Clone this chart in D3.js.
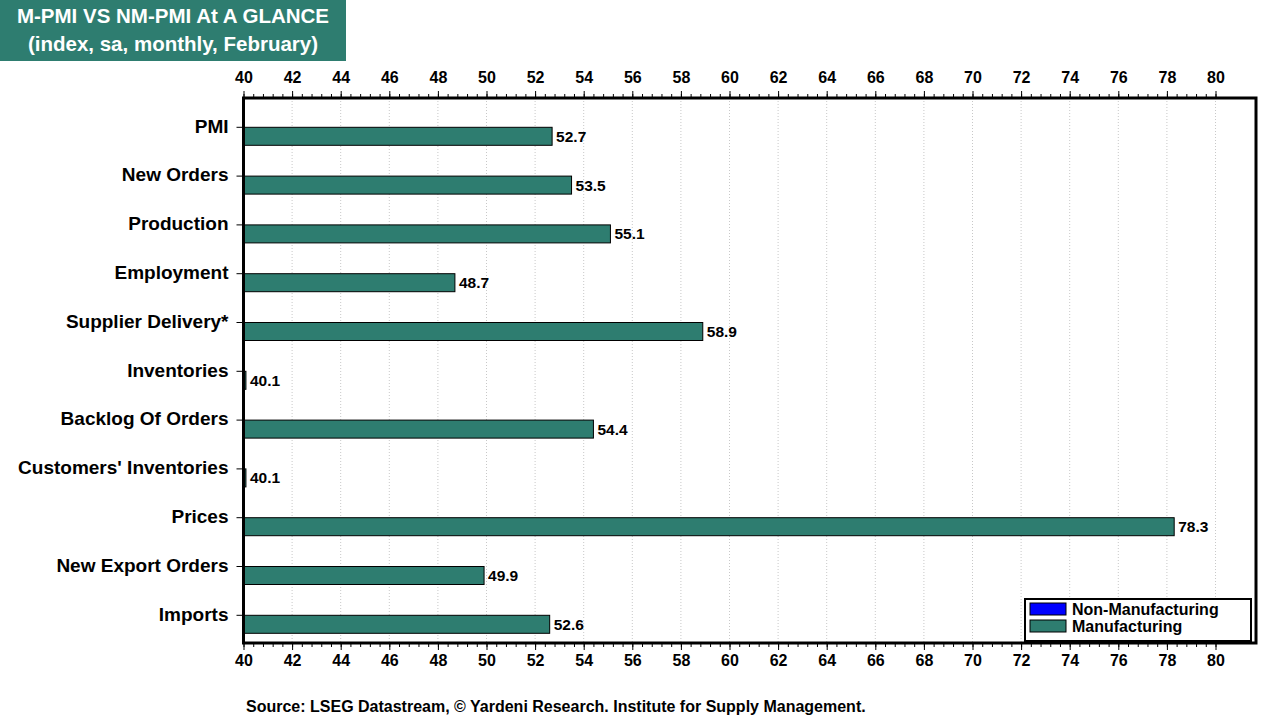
<!DOCTYPE html>
<html lang="en">
<head>
  <meta charset="UTF-8">
  <title>M-PMI VS NM-PMI At A Glance</title>
  <style>
    body { margin: 0; background: #fff; }
    svg { display: block; font-family: Arial, "Liberation Sans", sans-serif; }
  </style>
</head>
<body>
  <script src="https://d3js.org/d3.v7.min.js"></script>
  <script>
    // categories (top to bottom)
    const categories = ['PMI', 'New Orders', 'Production', 'Employment', 'Supplier Delivery*',
      'Inventories', 'Backlog Of Orders', "Customers' Inventories", 'Prices',
      'New Export Orders', 'Imports']
    // manufacturing values, February
    const manufacturing = [52.7, 53.5, 55.1, 48.7, 58.9, 40.1, 54.4, 40.1, 78.3, 49.9, 52.6]
    // non-manufacturing: no data shown
    const nonManufacturing = [null, null, null, null, null, null, null, null, null, null, null]
    const tickValues = d3.range(40, 81, 2)
    const seriesNames = ['Non-Manufacturing', 'Manufacturing']
    const seriesColors = ['#0000ff', '#2e7d70']

    const width = 1280, height = 720
    const frame = { left: 243.5, right: 1256, top: 98, bottom: 643 }
    const font = 'Arial, "Liberation Sans", sans-serif'

    const svg = d3.select('body').append('svg')
      .attr('width', width)
      .attr('height', height)

    // title box
    svg.append('rect')
      .attr('x', 0).attr('y', 0).attr('width', 346).attr('height', 61)
      .attr('fill', '#2e7d70')
    svg.append('text')
      .attr('x', 173).attr('y', 23)
      .attr('text-anchor', 'middle').attr('fill', '#fff')
      .attr('font-size', 20.5).attr('font-weight', 'bold')
      .text('M-PMI VS NM-PMI At A GLANCE')
    svg.append('text')
      .attr('x', 173).attr('y', 51)
      .attr('text-anchor', 'middle').attr('fill', '#fff')
      .attr('font-size', 20.5).attr('font-weight', 'bold')
      .text('(index, sa, monthly, February)')

    const x = d3.scaleLinear()
      .domain([40, 40 + (frame.right - frame.left) / 24.3])
      .range([frame.left, frame.right])

    const y = d3.scaleBand()
      .domain(categories)
      .range([102.9, 639.7])

    // two slots per category, meeting at the category centre
    const sub = d3.scaleBand()
      .domain(seriesNames)
      .range([y.bandwidth() / 2 - 18, y.bandwidth() / 2 + 18])

    // gridlines
    svg.append('g')
      .selectAll('line')
      .data(tickValues.slice(1))
      .join('line')
      .attr('x1', d => x(d)).attr('x2', d => x(d))
      .attr('y1', frame.top).attr('y2', frame.bottom)
      .attr('stroke', '#c8c8c8')
      .attr('stroke-width', 1)
      .attr('stroke-dasharray', '1,2')

    // minor ticks
    const minor = d3.range(40, 80.01, 0.4).map(d => +d.toFixed(1))
    const tickFmt = d => d

    svg.append('g')
      .attr('transform', `translate(0, ${frame.top - 1})`)
      .call(d3.axisTop(x).tickValues(minor).tickSize(3).tickFormat(''))
      .call(g => g.select('.domain').remove())
    svg.append('g')
      .attr('transform', `translate(0, ${frame.bottom + 1})`)
      .call(d3.axisBottom(x).tickValues(minor).tickSize(3).tickFormat(''))
      .call(g => g.select('.domain').remove())

    // major ticks with labels
    const topAxis = svg.append('g')
      .attr('transform', `translate(0, ${frame.top - 1})`)
      .call(d3.axisTop(x).tickValues(tickValues).tickSize(6).tickPadding(8).tickFormat(tickFmt))
    const bottomAxis = svg.append('g')
      .attr('transform', `translate(0, ${frame.bottom + 1})`)
      .call(d3.axisBottom(x).tickValues(tickValues).tickSize(6).tickPadding(5).tickFormat(tickFmt))
    ;[topAxis, bottomAxis].forEach(g => {
      g.select('.domain').remove()
      g.selectAll('text')
        .attr('font-size', 16).attr('font-weight', 'bold')
        .attr('fill', '#000').attr('font-family', font)
    })

    // left axis (category labels)
    const leftAxis = svg.append('g')
      .attr('transform', `translate(${frame.left - 1}, 0)`)
      .call(d3.axisLeft(y).tickSize(6).tickPadding(8))
    leftAxis.select('.domain').remove()
    leftAxis.selectAll('text')
      .attr('font-size', 19).attr('font-weight', 'bold')
      .attr('fill', '#000').attr('font-family', font)
      .attr('dy', '0.28em')

    // bars
    const series = [nonManufacturing, manufacturing]
    series.forEach((vals, si) => {
      const rows = categories.map((c, i) => ({ c, v: vals[i] })).filter(d => d.v != null)
      svg.append('g')
        .selectAll('rect')
        .data(rows)
        .join('rect')
        .attr('x', x(40))
        .attr('y', d => y(d.c) + sub(seriesNames[si]))
        .attr('width', d => x(d.v) - x(40))
        .attr('height', sub.bandwidth())
        .attr('fill', seriesColors[si])
        .attr('stroke', '#000')
        .attr('stroke-width', 1)

      svg.append('g')
        .selectAll('text')
        .data(rows)
        .join('text')
        .attr('x', d => x(d.v) + 4)
        .attr('y', d => y(d.c) + sub(seriesNames[si]) + sub.bandwidth() / 2)
        .attr('dy', '0.36em')
        .attr('font-size', 15.5).attr('font-weight', 'bold')
        .text(d => d.v.toFixed(1))
    })

    // frame
    svg.append('rect')
      .attr('x', frame.left).attr('y', frame.top)
      .attr('width', frame.right - frame.left)
      .attr('height', frame.bottom - frame.top)
      .attr('fill', 'none')
      .attr('stroke', '#000')
      .attr('stroke-width', 3)

    // legend
    const legend = svg.append('g').attr('transform', 'translate(1025, 599)')
    legend.append('rect')
      .attr('width', 226).attr('height', 42)
      .attr('fill', '#fff').attr('stroke', '#000').attr('stroke-width', 2)
    seriesNames.forEach((name, i) => {
      legend.append('rect')
        .attr('x', 5).attr('y', 4 + i * 17)
        .attr('width', 36).attr('height', 12)
        .attr('fill', seriesColors[i]).attr('stroke', '#000')
      legend.append('text')
        .attr('x', 47).attr('y', 10 + i * 17)
        .attr('dy', '0.36em')
        .attr('font-size', 16).attr('font-weight', 'bold')
        .text(name)
    })

    // source
    svg.append('text')
      .attr('x', 246).attr('y', 712)
      .attr('font-size', 16).attr('font-weight', 'bold')
      .text('Source: LSEG Datastream, \u00a9 Yardeni Research. Institute for Supply Management.')
  </script>
</body>
</html>
